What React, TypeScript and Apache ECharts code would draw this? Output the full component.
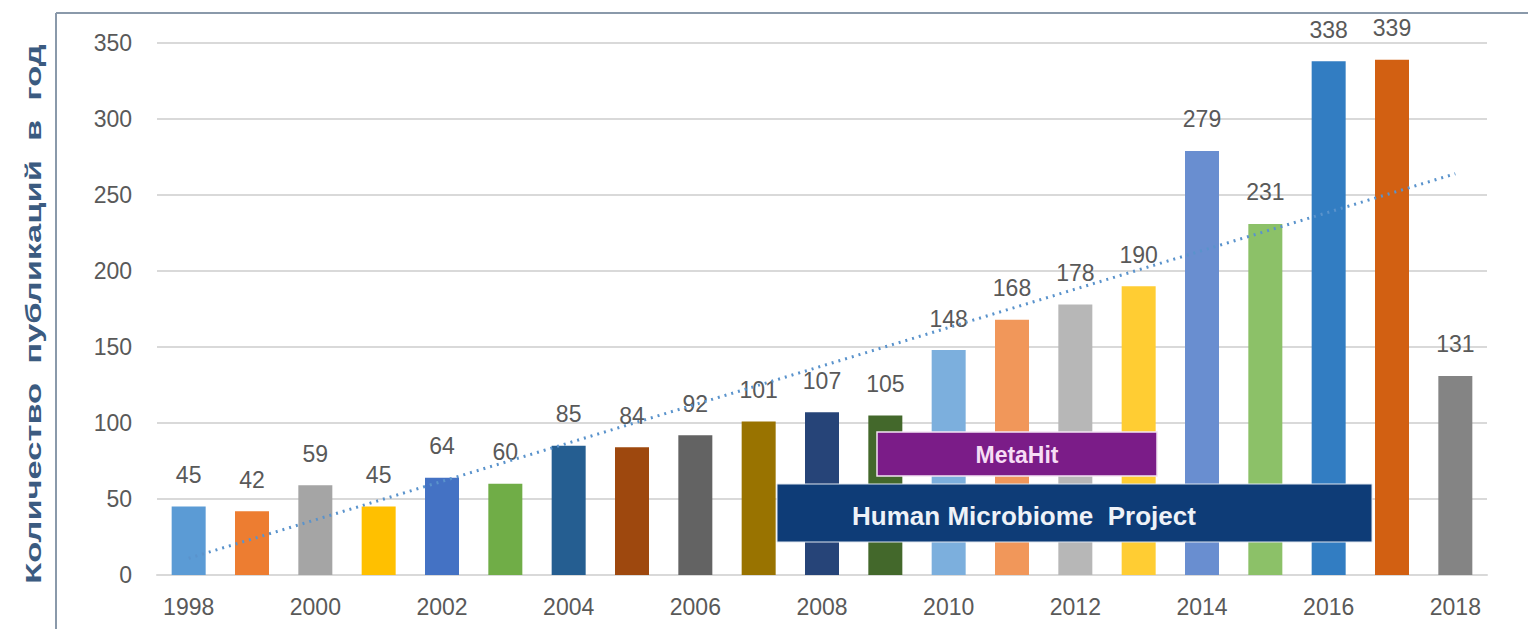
import React, { useEffect, useRef } from "react";
import * as echarts from "echarts";

const years = ["1998","1999","2000","2001","2002","2003","2004","2005","2006","2007","2008","2009","2010","2011","2012","2013","2014","2015","2016","2017","2018"];
const publications = [45, 42, 59, 45, 64, 60, 85, 84, 92, 101, 107, 105, 148, 168, 178, 190, 279, 231, 338, 339, 131];
const barColors = ["#5B9BD5","#ED7D31","#A5A5A5","#FFC000","#4472C4","#70AD47","#255E91","#9E480E","#636363","#997300","#264478","#43682B","#7CAFDD","#F1975A","#B7B7B7","#FFCD33","#698ED0","#8CC168","#327DC2","#D26012","#848484"];
// trend line end values (Excel linear trendline)
const trendStart = 11;
const trendEnd = 264;
const yAxisTitle = "Количество  публикаций  в  год";
const metaHitLabel = "MetaHit";
const hmpLabel = "Human Microbiome  Project";

export default function App() {
  const ref = useRef<HTMLDivElement>(null);
  useEffect(() => {
    if (!ref.current) return;
    const chart = echarts.init(ref.current, null, { renderer: "svg" });
    const trendData = years.map((_, i) => (i === 0 ? trendStart : i === years.length - 1 ? trendEnd : null));
    const font = "'Liberation Sans', Arial, sans-serif";
    chart.setOption({
      animation: false,
      backgroundColor: "#ffffff",
      grid: { left: 157, right: 41, top: 43, bottom: 54, containLabel: false },
      xAxis: {
        type: "category",
        data: years,
        axisLine: { show: true, lineStyle: { color: "#d9d9d9", width: 2 } },
        axisTick: { show: false },
        axisLabel: { interval: 1, fontSize: 23, color: "#595959", margin: 20, fontFamily: font },
      },
      yAxis: {
        type: "value",
        min: 0,
        max: 350,
        interval: 50,
        axisLine: { show: false },
        axisTick: { show: false },
        axisLabel: { fontSize: 23, color: "#595959", margin: 25, fontFamily: font },
        splitLine: { lineStyle: { color: "#d9d9d9", width: 2 } },
      },
      series: [
        {
          type: "bar",
          barWidth: 34,
          data: publications.map((v, i) => ({ value: v, itemStyle: { color: barColors[i] } })),
          label: { show: true, position: "top", distance: 20, fontSize: 23, color: "#595959", fontFamily: font },
          z: 2,
        },
        {
          type: "line",
          data: trendData,
          connectNulls: true,
          symbol: "none",
          lineStyle: { color: "#5A93CC", width: 3, type: [2, 5] },
          z: 5,
          silent: true,
        },
      ],
      graphic: [
        { type: "line", shape: { x1: 56, y1: 13, x2: 1528, y2: 13 }, style: { stroke: "#8a99aa", lineWidth: 2 } },
        { type: "line", shape: { x1: 56, y1: 13, x2: 56, y2: 629 }, style: { stroke: "#8a99aa", lineWidth: 2 } },
        {
          type: "text",
          x: 33,
          y: 314,
          rotation: Math.PI / 2,
          scaleX: 1.5,
          style: {
            text: yAxisTitle,
            fontSize: 23,
            fontWeight: "bold",
            fill: "#3b5b80",
            fontFamily: font,
            textAlign: "center",
            textVerticalAlign: "middle",
          },
        },
        {
          type: "rect",
          shape: { x: 877, y: 432, width: 280, height: 44 },
          style: { fill: "#7B1C88", stroke: "#f3e3f3", lineWidth: 1.5 },
          z: 10,
        },
        {
          type: "text",
          x: 1017,
          y: 455,
          style: { text: metaHitLabel, fontSize: 23, fontWeight: "bold", fill: "#f6dcf5", fontFamily: font, textAlign: "center", textVerticalAlign: "middle" },
          z: 11,
        },
        {
          type: "rect",
          shape: { x: 777, y: 484, width: 595, height: 58 },
          style: { fill: "#0E3C77", stroke: "#dfe6f0", lineWidth: 1 },
          z: 10,
        },
        {
          type: "text",
          x: 1024,
          y: 516,
          style: { text: hmpLabel, fontSize: 26, fontWeight: "bold", fill: "#eef2f8", fontFamily: font, textAlign: "center", textVerticalAlign: "middle" },
          z: 11,
        },
      ],
    });
    return () => chart.dispose();
  }, []);
  return <div ref={ref} style={{ position: "fixed", left: 0, top: 0, width: 1528, height: 629 }} />;
}
